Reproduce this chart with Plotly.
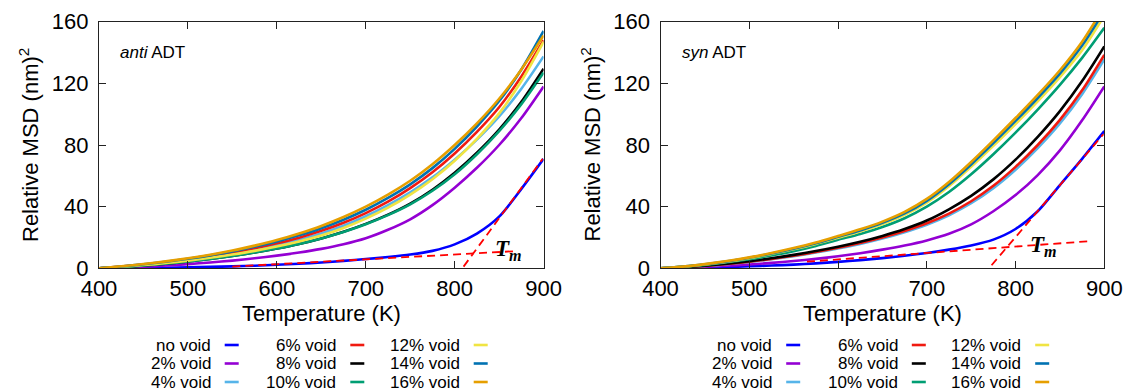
import plotly.graph_objects as go

# ---------------- data ----------------
temperature = [400, 425, 450, 475, 500, 525, 550, 575, 600, 625, 650, 675,
               700, 725, 750, 775, 800, 825, 850, 875, 900]

labels = ["no void", "2% void", "4% void", "6% void", "8% void",
          "10% void", "12% void", "14% void", "16% void"]
colors = ["#0000ff", "#9400d3", "#56b4e9", "#f01a10", "#000000",
          "#009e73", "#f0e442", "#0072b2", "#e69f00"]

# anti ADT
anti_void_00 = [0, 0.1, 0.25, 0.4, 0.6, 0.9, 1.25, 1.7, 2.3, 3.0, 3.8, 4.8, 6.0, 7.3, 8.9, 11.3, 15.5, 22.5, 33.5, 51.5, 71]
anti_void_02 = [0, 0.5, 1.1, 1.8, 2.7, 3.8, 5.0, 6.5, 8.2, 10.2, 12.6, 15.6, 19.5, 25.0, 31.8, 41.0, 52.3, 65.2, 80, 97.5, 118]
anti_void_04 = [0, 1.0, 2.2, 3.6, 5.3, 7.2, 9.4, 12, 15, 18.5, 22.6, 27.6, 33.8, 41, 49.3, 59, 70.5, 83.5, 98.5, 116.5, 137.5]
anti_void_06 = [0, 1.1, 2.4, 3.9, 5.7, 7.8, 10.2, 13, 16.2, 19.9, 24.3, 29.5, 35.8, 43.2, 52, 62.3, 74.5, 88.5, 104.5, 124.5, 148]
anti_void_08 = [0, 0.8, 1.8, 3.0, 4.4, 6.1, 8.0, 10.2, 12.8, 15.8, 19.4, 23.7, 28.8, 34.8, 42, 51, 62, 75, 90, 108, 129.5]
anti_void_10 = [0, 0.8, 1.8, 3.0, 4.4, 6.1, 8.0, 10.2, 12.8, 15.8, 19.4, 23.6, 28.6, 34.5, 41.5, 50.3, 61, 74, 89, 106.5, 127]
anti_void_12 = [0, 1.0, 2.1, 3.4, 5.0, 6.8, 8.9, 11.3, 14.1, 17.4, 21.3, 26.2, 32.2, 39.3, 47.8, 57.8, 69.8, 84, 100.5, 121.5, 147]
anti_void_14 = [0, 1.2, 2.6, 4.3, 6.2, 8.4, 11, 14, 17.4, 21.4, 26, 31.5, 38, 45.7, 54.5, 65, 77.5, 92, 108.5, 129, 154]
anti_void_16 = [0, 1.3, 2.8, 4.5, 6.5, 8.8, 11.5, 14.7, 18.3, 22.6, 27.5, 33.3, 40, 47.8, 56.8, 67.5, 80, 94, 110, 129, 151]

# syn ADT
syn_void_00 = [0, 0.3, 0.6, 0.9, 1.3, 1.8, 2.4, 3.2, 4.2, 5.3, 6.6, 8.1, 9.9, 12.1, 14.8, 18.6, 25.5, 37, 54, 71, 89]
syn_void_02 = [0, 0.4, 1.0, 1.7, 2.5, 3.5, 4.7, 6.1, 7.8, 9.8, 12.1, 14.8, 18.1, 22.4, 28.5, 37, 47.5, 60.5, 76.5, 96, 118]
syn_void_04 = [0, 0.7, 1.5, 2.7, 4.1, 5.9, 7.9, 10.2, 12.8, 15.8, 19.3, 23.4, 28.3, 34.4, 42.2, 52, 64, 78, 94, 113, 135.5]
syn_void_06 = [0, 0.7, 1.6, 2.8, 4.3, 6.1, 8.2, 10.6, 13.3, 16.4, 20, 24.2, 29.2, 35.5, 43.5, 53.5, 65.8, 80, 96.3, 115.5, 138.5]
syn_void_08 = [0, 0.7, 1.7, 3.0, 4.6, 6.5, 8.7, 11.2, 14, 17.2, 21, 25.5, 31, 38.3, 47, 57.7, 70.5, 85.3, 102, 121.5, 144]
syn_void_10 = [0, 0.9, 2.2, 3.9, 5.9, 8.3, 11.1, 14.5, 18.5, 22.3, 26.8, 32.5, 40, 49.5, 61, 74, 88, 103, 119, 136.5, 156]
syn_void_12 = [0, 1.0, 2.5, 4.3, 6.6, 9.3, 12.3, 15.8, 19.8, 23.9, 28.7, 34.7, 42.6, 53.2, 65.8, 79.4, 93.6, 108.3, 124, 141.5, 164]
syn_void_14 = [0, 1.1, 2.6, 4.5, 6.9, 9.6, 12.7, 16.3, 20.4, 24.6, 29.5, 35.6, 43.8, 54.6, 67.4, 81.2, 95.6, 110.5, 126.3, 144.5, 167]
syn_void_16 = [0, 1.1, 2.7, 4.7, 7.1, 9.9, 13.1, 16.8, 21, 25.3, 30.3, 36.6, 45, 56, 69, 83, 97.5, 112.5, 128.5, 147, 170]

# linear fits used to locate Tm
anti_fit_low_T = [550, 871]
anti_fit_low = [1.1, 11.2]
anti_fit_high_T = [810, 899]
anti_fit_high = [1.1, 71]
syn_fit_low_T = [565, 886]
syn_fit_low = [4.3, 17.7]
syn_fit_high_T = [773, 899]
syn_fit_high = [2.0, 87]

x_ticks = [400, 500, 600, 700, 800, 900]
y_ticks = [0, 40, 80, 120, 160]

anti_series = [anti_void_00, anti_void_02, anti_void_04, anti_void_06, anti_void_08,
               anti_void_10, anti_void_12, anti_void_14, anti_void_16]
syn_series = [syn_void_00, syn_void_02, syn_void_04, syn_void_06, syn_void_08,
              syn_void_10, syn_void_12, syn_void_14, syn_void_16]

# ---------------- figure ----------------
W, H = 1129, 392
fig = go.Figure()

panels = [
    ("x", "y", anti_series, (anti_fit_low_T, anti_fit_low), (anti_fit_high_T, anti_fit_high)),
    ("x2", "y2", syn_series, (syn_fit_low_T, syn_fit_low), (syn_fit_high_T, syn_fit_high)),
]
for xa, ya, series, fit_lo, fit_hi in panels:
    for vals, lab, col in zip(series, labels, colors):
        fig.add_trace(go.Scatter(x=temperature, y=vals, mode="lines", name=lab,
                                 line=dict(color=col, width=2.6, shape="spline", smoothing=0.8),
                                 xaxis=xa, yaxis=ya, showlegend=False))
    for fx, fy in (fit_lo, fit_hi):
        fig.add_trace(go.Scatter(x=fx, y=fy, mode="lines",
                                 line=dict(color="#ff0000", width=1.8, dash="8px,5px"),
                                 xaxis=xa, yaxis=ya, showlegend=False))

font_family = "Liberation Sans, Arial, sans-serif"
ax_common = dict(showline=True, linecolor="#222222", linewidth=1.3, mirror="ticks",
                 ticks="inside", ticklen=7, tickwidth=1.3, tickcolor="#222222",
                 showgrid=False, zeroline=False, automargin=False,
                 tickfont=dict(family=font_family, size=22, color="#000000"))

ydom = [(H - 268.3) / H, (H - 21.7) / H]
xdom1 = [99 / W, 543.6 / W]
xdom2 = [660.5 / W, 1104.3 / W]

fig.update_layout(
    width=W, height=H,
    margin=dict(l=0, r=0, t=0, b=0, autoexpand=False),
    paper_bgcolor="white", plot_bgcolor="white",
    showlegend=False,
    xaxis=dict(domain=xdom1, range=[400, 900], tickvals=x_ticks, anchor="y", **ax_common),
    yaxis=dict(domain=ydom, range=[0, 160], tickvals=y_ticks, anchor="x",
               ticklabelstandoff=5, **ax_common),
    xaxis2=dict(domain=xdom2, range=[400, 900], tickvals=x_ticks, anchor="y2", **ax_common),
    yaxis2=dict(domain=ydom, range=[0, 160], tickvals=y_ticks, anchor="x2",
                ticklabelstandoff=5, **ax_common),
)

annotations = []
shapes = []
for xd, name, xa, ya, tm_x, tm_y in [
    (xdom1, "<i>anti</i> ADT", "x", "y", 843, 12.0),
    (xdom2, "<i>syn</i> ADT", "x2", "y2", 814, 14.5),
]:
    left_px = xd[0] * W
    center_px = (xd[0] + xd[1]) / 2 * W
    # axis titles
    annotations.append(dict(text="Temperature (K)", x=center_px / W, y=(H - 313) / H,
                            xref="paper", yref="paper", showarrow=False,
                            xanchor="center", yanchor="middle",
                            font=dict(family=font_family, size=22, color="#000000")))
    annotations.append(dict(text="Relative MSD (nm)<sup>2</sup>", x=(left_px - 70) / W, y=(H - 145) / H,
                            xref="paper", yref="paper", showarrow=False, textangle=-90,
                            xanchor="center", yanchor="middle",
                            font=dict(family=font_family, size=22, color="#000000")))
    # panel label
    annotations.append(dict(text=name, x=(left_px + 19) / W, y=(H - 52) / H,
                            xref="paper", yref="paper", showarrow=False,
                            xanchor="left", yanchor="middle",
                            font=dict(family=font_family, size=17, color="#000000")))
    # Tm label
    annotations.append(dict(text="<b><i>T</i></b><sub><b><i>m</i></b></sub>", x=tm_x, y=tm_y,
                            xref=xa, yref=ya, showarrow=False,
                            xanchor="left", yanchor="middle",
                            font=dict(family="Liberation Serif, Times New Roman, serif", size=23,
                                      color="#000000")))
    # custom legend (text right-aligned, sample line to its right)
    col_text_end = [113.7, 239.3, 362.7]
    rows_y = [345, 363.5, 382]
    for i, (lab, col) in enumerate(zip(labels, colors)):
        c, r = divmod(i, 3)
        tx = left_px + col_text_end[c]
        ty = rows_y[r]
        annotations.append(dict(text=lab, x=tx / W, y=(H - ty) / H, xref="paper", yref="paper",
                                showarrow=False, xanchor="right", yanchor="middle",
                                font=dict(family=font_family, size=17, color="#000000")))
        shapes.append(dict(type="line", xref="paper", yref="paper",
                           x0=(tx + 12) / W, x1=(tx + 26) / W,
                           y0=(H - ty) / H, y1=(H - ty) / H,
                           line=dict(color=col, width=2.6)))

fig.update_layout(annotations=annotations, shapes=shapes)
fig.write_html("out.html")
